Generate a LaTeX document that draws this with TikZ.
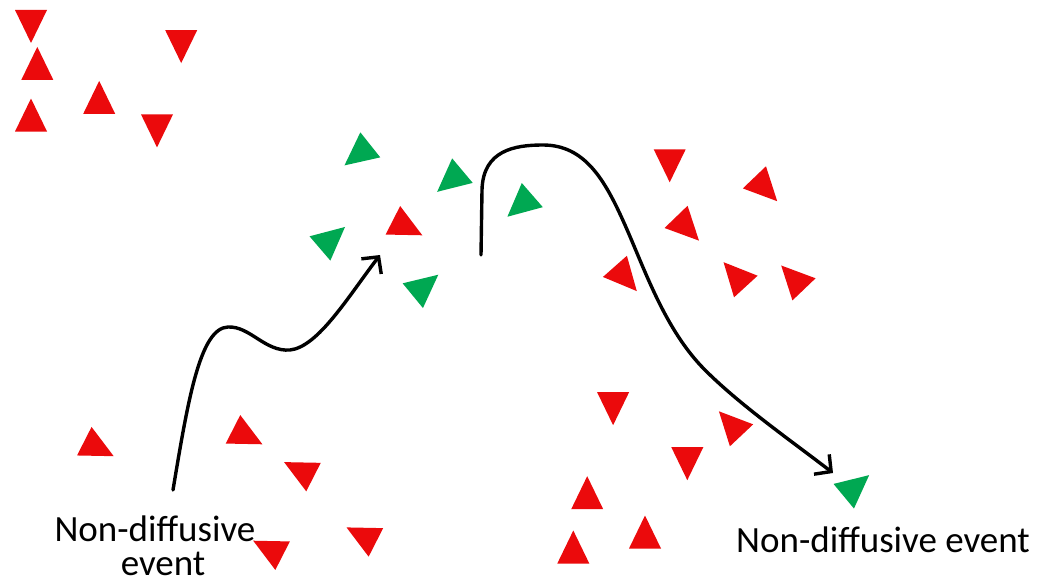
\documentclass[tikz,border=0pt]{standalone}
\usepackage{fontspec}
\setmainfont{Carlito}
\usetikzlibrary{arrows.meta}
\definecolor{tred}{RGB}{235,10,12}
\definecolor{tgreen}{RGB}{0,168,82}
\newcommand\trig[4]{\fill[#4,shift={(#1,#2)},rotate=#3] (0,-22) -- (16,11) -- (-16,11) -- cycle;}
\tikzset{
  lbl/.style={inner sep=0pt, font=\fontsize{37}{43}\selectfont, text=black},
  conn/.style={line width=3.4pt, draw=black, line cap=round, -{Straight Barb[length=12pt,width=25pt]}}
}
\begin{document}
\begin{tikzpicture}[x=1pt,y=-1pt]
\useasboundingbox (0,0) rectangle (1039,586);
\fill[white] (0,0) rectangle (1039,586);
% top-left cluster
\trig{31}{21}{180}{tred}
\trig{37.3}{68.9}{0}{tred}
\trig{31}{120.5}{0}{tred}
\trig{99.2}{102.9}{0}{tred}
\trig{181.2}{41.1}{180}{tred}
\trig{157}{125.4}{180}{tred}
% middle cluster
\trig{361.7}{151.7}{128.5}{tgreen}
\trig{454}{177.7}{130}{tgreen}
\trig{524}{202.3}{131}{tgreen}
\trig{328.3}{241.3}{-49.4}{tgreen}
\trig{421.3}{288.7}{-50.6}{tgreen}
\trig{402.7}{225.3}{-117}{tred}
% right upper cluster
\trig{669.7}{160.3}{180}{tred}
\trig{762}{185.3}{-136.3}{tred}
\trig{683.7}{224.8}{-136}{tred}
\trig{622.2}{274.6}{-138.5}{tred}
\trig{738.4}{278.4}{42.5}{tred}
\trig{796.4}{281.4}{43.7}{tred}
% bottom-left cluster
\trig{94.1}{446.2}{-117}{tred}
\trig{242.8}{434.3}{-117}{tred}
\trig{303.7}{472.1}{63}{tred}
\trig{272.8}{550.7}{63}{tred}
\trig{366.1}{537.4}{63}{tred}
% bottom-right cluster
\trig{613.1}{403.2}{180}{tred}
\trig{734}{427.3}{43.3}{tred}
\trig{687.3}{458.2}{180}{tred}
\trig{587.2}{498.2}{0}{tred}
\trig{645}{537.5}{0}{tred}
\trig{573.3}{552.5}{0}{tred}
\trig{852.2}{489.2}{-50.3}{tgreen}
% labels
\node[lbl, anchor=base] (l1a) at (155,541) {Non-diffusive};
\node[lbl, anchor=base] (l1b) at (163,575) {event};
\node[lbl, anchor=base west] (l2) at (736,552) {Non-diffusive event};
% connectors
\coordinate (s1) at (173,490);
\coordinate (e1) at (380,255);
\coordinate (s2) at (481,255);
\coordinate (e2) at (833,473);
\draw[conn] (s1) .. controls (188,400) and (200,328) .. (228,327)
  .. controls (250,326) and (265,352) .. (290,350)
  .. controls (318,347) and (348,297) .. (e1);
\draw[conn] (s2) -- (482,190) .. controls (483,150) and (515,145) .. (543,145)
  .. controls (585,145) and (605,180) .. (625,225)
  .. controls (645,270) and (665,330) .. (705,370)
  .. controls (740,405) and (790,440) .. (e2);
\end{tikzpicture}
\end{document}
